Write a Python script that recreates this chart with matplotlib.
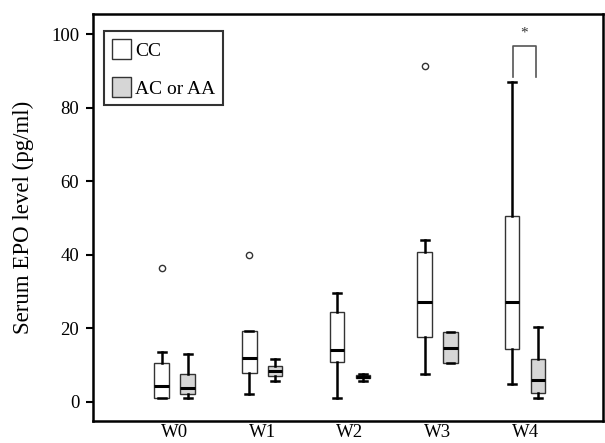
import matplotlib
matplotlib.use("Agg")
import matplotlib.pyplot as plt

plt.rcParams['font.family'] = ['Liberation Serif', 'DejaVu Serif']

weeks = ["W0", "W1", "W2", "W3", "W4"]
groups = ["CC", "AC or AA"]

# CC genotype stats
cc_whislo = [0.9, 2.1, 0.9, 7.4, 4.7]
cc_q1     = [0.9, 7.7, 10.7, 17.5, 14.2]
cc_med    = [4.3, 11.8, 14.0, 27.2, 27.0]
cc_q3     = [10.6, 19.1, 24.3, 40.7, 50.5]
cc_whishi = [13.4, 19.1, 29.7, 43.9, 87.1]
cc_fliers = [[36.5], [39.9], [], [91.5], []]

# AC or AA genotype stats
ac_whislo = [0.9, 5.7, 5.7, 10.4, 0.9]
ac_q1     = [2.1, 7.1, 6.5, 10.4, 2.2]
ac_med    = [3.6, 8.3, 6.8, 14.7, 5.9]
ac_q3     = [7.4, 9.8, 7.35, 18.9, 11.5]
ac_whishi = [13.0, 11.6, 7.5, 18.9, 20.2]
ac_fliers = [[], [], [], [], []]

yticks = [0, 20, 40, 60, 80, 100]

fig = plt.figure(figsize=(6.05, 4.43), dpi=100)
ax = fig.add_axes([0.154, 0.050, 0.843, 0.918])

off = 0.148
width = 0.165

def stats(lo, q1, med, q3, hi, fl):
    return [dict(whislo=a, q1=b, med=c, q3=d, whishi=e, fliers=f)
            for a, b, c, d, e, f in zip(lo, q1, med, q3, hi, fl)]

common = dict(widths=width, patch_artist=True, showfliers=True,
              whiskerprops=dict(color='black', linewidth=1.8),
              capprops=dict(color='black', linewidth=1.8),
              medianprops=dict(color='black', linewidth=2.2),
              flierprops=dict(marker='o', markersize=4.5, markerfacecolor='white',
                              markeredgecolor='#333333', markeredgewidth=1.0))
capw = 0.09

b1 = ax.bxp(stats(cc_whislo, cc_q1, cc_med, cc_q3, cc_whishi, cc_fliers),
            positions=[i - off for i in range(len(weeks))],
            boxprops=dict(facecolor='white', edgecolor='#333333', linewidth=1.0),
            capwidths=capw, **common)
b2 = ax.bxp(stats(ac_whislo, ac_q1, ac_med, ac_q3, ac_whishi, ac_fliers),
            positions=[i + off for i in range(len(weeks))],
            boxprops=dict(facecolor='#d6d6d6', edgecolor='#333333', linewidth=1.0),
            capwidths=capw, **common)

# significance bracket at W4
x1, x2 = 4 - off + 0.01, 4 + off - 0.03
ax.plot([x1, x1, x2, x2], [88.5, 96.9, 96.9, 88.5], color='#555555', linewidth=1.2)
ax.text((x1 + x2) / 2, 98.5, "*", ha='center', va='bottom', fontsize=11, color='#333333')

ax.set_xlim(-0.93, 4.89)
ax.set_ylim(-5.25, 105.5)
ax.set_xticks(range(len(weeks)))
ax.set_xticklabels(weeks, fontsize=13.5)
ax.tick_params(axis='x', length=0, pad=2.5)
ax.set_yticks(yticks)
ax.set_yticklabels([str(t) for t in yticks], fontsize=13.5)
ax.tick_params(axis='y', direction='out', length=5, width=1.5, pad=5)
ax.set_ylabel("Serum EPO level (pg/ml)", fontsize=16.5, labelpad=12)
for s in ax.spines.values():
    s.set_linewidth(1.8)

leg = ax.legend([b1['boxes'][0], b2['boxes'][0]], groups, loc='upper left',
                bbox_to_anchor=(0.0216, 0.958), borderaxespad=0, fontsize=14,
                frameon=True, fancybox=False, edgecolor='black', handlelength=1.0,
                handleheight=1.2, handletextpad=0.2, labelspacing=0.9,
                borderpad=0.4)
leg.get_frame().set_linewidth(1.5)

fig.savefig("out.png", dpi=100)
